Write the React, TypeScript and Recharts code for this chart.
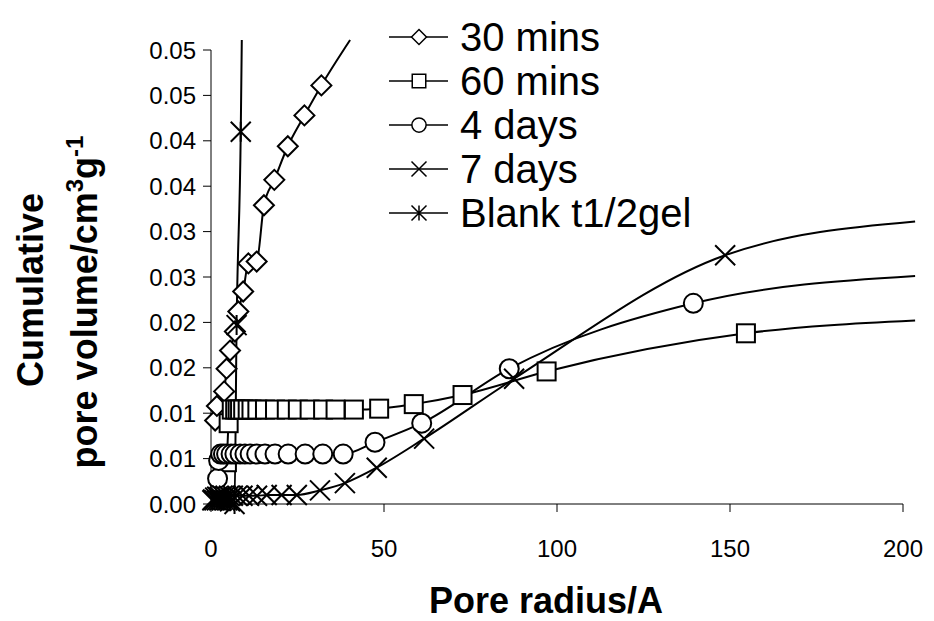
import { ComposedChart, Line, XAxis, YAxis, Legend } from "recharts";

const FONT = '"Liberation Sans", Arial, sans-serif';

// pore radius (A) / cumulative pore volume (cm3/g)
const mins30Radius = [1.2, 1.7, 3.8, 4.5, 5.5, 6.9, 7.9, 9.3, 10.8, 13.2, 15.3, 18.3, 22.2, 27.0, 31.9, 40.2];
const mins30Volume = [0.0092, 0.0108, 0.0124, 0.0149, 0.0169, 0.019, 0.0212, 0.0234, 0.0265, 0.0267, 0.0329, 0.0357, 0.0394, 0.0428, 0.0461, 0.0511];

const mins60Radius = [4.6, 5.1, 6.0, 7.0, 7.7, 8.4, 9.3, 10.6, 11.7, 13.4, 15.6, 18.5, 21.9, 25.1, 28.5, 32.4, 36.0, 41.3, 48.6, 58.6, 72.7, 97.0, 154.6, 203.5];
const mins60Volume = [0.0046, 0.0089, 0.0104, 0.0104, 0.0104, 0.0104, 0.0104, 0.0104, 0.0104, 0.0104, 0.0104, 0.0104, 0.0104, 0.0104, 0.0104, 0.0104, 0.0104, 0.0104, 0.0105, 0.011, 0.012, 0.0146, 0.0188, 0.0202];

const days4Radius = [1.9, 2.2, 2.8, 3.6, 4.5, 5.8, 6.9, 8.4, 9.8, 11.3, 13.2, 15.6, 18.5, 22.3, 27.2, 32.3, 38.2, 47.4, 60.9, 86.2, 139.4, 203.5];
const days4Volume = [0.0028, 0.0048, 0.0055, 0.0055, 0.0055, 0.0055, 0.0055, 0.0055, 0.0055, 0.0055, 0.0055, 0.0055, 0.0055, 0.0055, 0.0055, 0.0055, 0.0055, 0.0068, 0.0089, 0.0149, 0.0221, 0.0251];

const days7Radius = [0.6, 1.2, 1.8, 2.5, 3.3, 4.2, 5.2, 6.3, 7.6, 9.1, 11.0, 13.3, 16.1, 20.4, 24.8, 31.5, 38.7, 47.9, 61.6, 87.6, 148.6, 203.5];
const days7Volume = [0.0005, 0.0007, 0.0008, 0.0008, 0.0009, 0.0009, 0.0009, 0.0009, 0.0009, 0.0009, 0.0009, 0.0009, 0.001, 0.001, 0.001, 0.0015, 0.0023, 0.004, 0.0072, 0.0138, 0.0274, 0.0311];

const blankRadius = [0.4, 1.0, 1.7, 2.4, 3.1, 3.9, 4.7, 5.5, 6.8, 7.4, 8.6, 8.9];
const blankVolume = [0.0004, 0.0004, 0.0004, 0.0004, 0.0004, 0.0004, 0.0004, 0.0003, 0.0, 0.0197, 0.041, 0.0511];

const xTicks = [0, 50, 100, 150, 200];
const yTicks = [0, 0.005, 0.01, 0.015, 0.02, 0.025, 0.03, 0.035, 0.04, 0.045, 0.05];
const yTickLabels = ["0.00", "0.01", "0.01", "0.02", "0.02", "0.03", "0.03", "0.04", "0.04", "0.05", "0.05"];

const zip = (xs: number[], ys: number[]) => xs.map((x, i) => ({ x, y: ys[i] }));

type MarkerKind = "diamond" | "square" | "circle" | "cross" | "star";

const series: { name: string; marker: MarkerKind; data: { x: number; y: number }[] }[] = [
  { name: "30 mins", marker: "diamond", data: zip(mins30Radius, mins30Volume) },
  { name: "60 mins", marker: "square", data: zip(mins60Radius, mins60Volume) },
  { name: "4 days", marker: "circle", data: zip(days4Radius, days4Volume) },
  { name: "7 days", marker: "cross", data: zip(days7Radius, days7Volume) },
  { name: "Blank t1/2gel", marker: "star", data: zip(blankRadius, blankVolume) },
];

function Marker({ kind, cx, cy, s, sw }: { kind: MarkerKind; cx: number; cy: number; s: number; sw: number }) {
  const common = { fill: "#fff", stroke: "#000", strokeWidth: sw };
  switch (kind) {
    case "diamond":
      return <polygon points={`${cx},${cy - s} ${cx + s},${cy} ${cx},${cy + s} ${cx - s},${cy}`} {...common} />;
    case "square":
      return <rect x={cx - s * 0.9} y={cy - s * 0.9} width={s * 1.8} height={s * 1.8} {...common} />;
    case "circle":
      return <circle cx={cx} cy={cy} r={s * 0.95} {...common} />;
    case "cross":
      return (
        <path
          d={`M${cx - s},${cy - s}L${cx + s},${cy + s}M${cx - s},${cy + s}L${cx + s},${cy - s}`}
          stroke="#000"
          strokeWidth={sw}
          fill="none"
        />
      );
    default:
      return (
        <path
          d={`M${cx - s},${cy - s}L${cx + s},${cy + s}M${cx - s},${cy + s}L${cx + s},${cy - s}M${cx},${cy - s}L${cx},${cy + s}`}
          stroke="#000"
          strokeWidth={sw}
          fill="none"
        />
      );
  }
}

const makeDot = (kind: MarkerKind) => (p: any) => {
  const { cx, cy, payload, index } = p;
  // the last points only carry the line past the frame, like Excel did; no marker there
  if (payload.x > 200 || payload.y > 0.05) return <g key={`d-${index}`} />;
  return (
    <g key={`d-${index}`}>
      <Marker kind={kind} cx={cx} cy={cy} s={10} sw={2} />
    </g>
  );
};

const LegendBox = () => (
  <div style={{ fontFamily: FONT, fontSize: 40, color: "#000" }}>
    {series.map((s) => (
      <div key={s.name} style={{ display: "flex", alignItems: "center", height: 44 }}>
        <svg width={72} height={44}>
          <line x1={1} x2={60} y1={22} y2={22} stroke="#000" strokeWidth={1.5} />
          <Marker kind={s.marker} cx={31} cy={22} s={7.5} sw={1.5} />
        </svg>
        <span style={{ lineHeight: "44px", whiteSpace: "nowrap" }}>{s.name}</span>
      </div>
    ))}
  </div>
);

const yTitle = () => (
  <g fontFamily={FONT} fontWeight="bold" fontSize={36} fill="#000">
    <text transform="translate(43,290) rotate(-90)" textAnchor="middle">
      Cumulative
    </text>
    <text transform="translate(97,302) rotate(-90)" textAnchor="middle">
      pore volume/cm
      <tspan dy={-14} fontSize={24}>3</tspan>
      <tspan dy={14}>g</tspan>
      <tspan dy={-14} fontSize={24}>-1</tspan>
    </text>
  </g>
);

const xTitle = () => (
  <text x={546} y={613} textAnchor="middle" fontFamily={FONT} fontWeight="bold" fontSize={36} fill="#000">
    Pore radius/A
  </text>
);

export default function App() {
  return (
    <div style={{ position: "absolute", left: 0, top: 0, background: "#fff" }}>
      {/* let the lines run a little past the frame as in the original */}
      <style>{`.recharts-surface [clip-path] { clip-path: none !important; }`}</style>
      <ComposedChart width={934} height={621} margin={{ top: 50, right: 31, bottom: 0, left: 0 }}>
        <XAxis
          type="number"
          dataKey="x"
          domain={[0, 200]}
          ticks={xTicks}
          allowDataOverflow
          height={117}
          tickSize={8}
          tickMargin={28}
          axisLine={{ stroke: "#000" }}
          tickLine={{ stroke: "#000" }}
          tick={{ fill: "#000", fontSize: 24, fontFamily: FONT }}
          label={{ content: xTitle }}
        />
        <YAxis
          type="number"
          domain={[0, 0.05]}
          ticks={yTicks}
          allowDataOverflow
          width={211}
          tickSize={8}
          tickMargin={7}
          interval={0}
          axisLine={{ stroke: "#000" }}
          tickLine={{ stroke: "#000" }}
          tick={{ fill: "#000", fontSize: 24, fontFamily: FONT }}
          tickFormatter={(v: number) => yTickLabels[yTicks.findIndex((t) => Math.abs(t - v) < 1e-9)] ?? ""}
          label={{ content: yTitle }}
        />
        <Legend
          layout="vertical"
          align="center"
          verticalAlign="middle"
          content={LegendBox}
          wrapperStyle={{ left: 388, top: 15, width: "auto", height: "auto" }}
        />
        {series.map((s) => (
          <Line
            key={s.name}
            name={s.name}
            data={s.data}
            dataKey="y"
            type="monotone"
            stroke="#000"
            strokeWidth={2}
            dot={makeDot(s.marker)}
            activeDot={false}
            isAnimationActive={false}
          />
        ))}
      </ComposedChart>
    </div>
  );
}
